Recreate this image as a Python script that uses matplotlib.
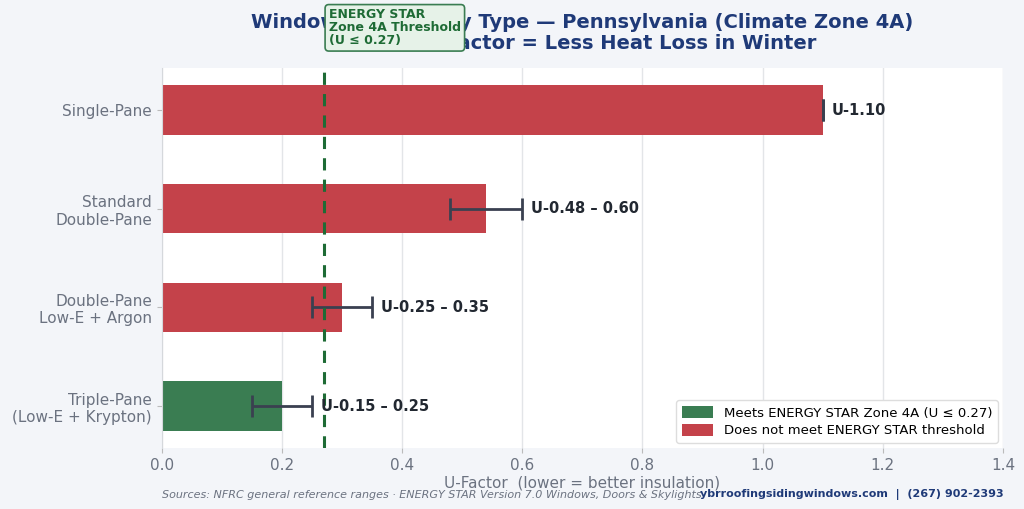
import matplotlib
matplotlib.use("Agg")
import matplotlib.pyplot as plt
import matplotlib.transforms as mtransforms
from matplotlib.patches import Patch

categories = ["Single-Pane", "Standard\nDouble-Pane", "Double-Pane\nLow-E + Argon", "Triple-Pane\n(Low-E + Krypton)"]
u_low = [1.10, 0.48, 0.25, 0.15]
u_high = [1.10, 0.60, 0.35, 0.25]
bar_values = [1.10, 0.54, 0.30, 0.20]
value_labels = ["U-1.10", "U-0.48 – 0.60", "U-0.25 – 0.35", "U-0.15 – 0.25"]
threshold = 0.27
x_ticks = [0.0, 0.2, 0.4, 0.6, 0.8, 1.0, 1.2, 1.4]

RED = "#c4424a"
GREEN = "#3a7d52"
DARKGREEN = "#1e6b35"
NAVY = "#1f3a78"
GRAY = "#6b7280"
ERR = "#3a4050"

fig = plt.figure(figsize=(10.24, 5.09), dpi=100)
fig.patch.set_facecolor("#f3f5f9")
ax = fig.add_axes([0.158, 0.12, 0.8215, 0.746])
ax.set_facecolor("white")

ypos = list(range(len(categories)))
colors = [GREEN if h <= threshold else RED for h in u_high]
ax.barh(ypos, bar_values, height=0.5, color=colors, zorder=2)
xerr_lo = [b - l for b, l in zip(bar_values, u_low)]
xerr_hi = [h - b for b, h in zip(bar_values, u_high)]
ax.errorbar(bar_values, ypos, xerr=[xerr_lo, xerr_hi], fmt="none", ecolor=ERR,
            elinewidth=2, capsize=8, capthick=2, zorder=3)
for y, h, lab in zip(ypos, u_high, value_labels):
    ax.text(h + 0.015, y, lab, va="center", ha="left", fontsize=10.5,
            fontweight="bold", color="#222831", zorder=4)

ax.axvline(threshold, color=DARKGREEN, linestyle=(0, (4, 3)), linewidth=2.2, zorder=3)
trans = mtransforms.blended_transform_factory(ax.transData, ax.transAxes)
ax.text(threshold + 0.008, 1.055, "ENERGY STAR\nZone 4A Threshold\n(U ≤ 0.27)", transform=trans,
        ha="left", va="bottom", fontsize=9, fontweight="bold", color=DARKGREEN, zorder=5,
        linespacing=1.0,
        bbox=dict(boxstyle="round,pad=0.3", facecolor="#e6f2e8", edgecolor="#3a7d52", linewidth=1.2))

ax.set_yticks(ypos)
ax.set_yticklabels(categories, fontsize=11, color=GRAY)
ax.invert_yaxis()
ax.set_xlim(0, 1.4)
ax.set_xticks(x_ticks)
ax.set_xticklabels([f"{t:.1f}" for t in x_ticks], fontsize=11, color=GRAY)
ax.tick_params(axis="both", colors="#bbbbbb", labelcolor=GRAY)
ax.grid(axis="x", color="#e3e5e8", linewidth=1, zorder=0)
ax.set_axisbelow(True)
for s in ["top", "right", "bottom"]:
    ax.spines[s].set_visible(False)
ax.spines["left"].set_color("#d5d8dc")
ax.set_xlabel("U-Factor  (lower = better insulation)", fontsize=11, color=GRAY, labelpad=2)

ax.set_title("Window U-Factor by Type — Pennsylvania (Climate Zone 4A)\nLower U-Factor = Less Heat Loss in Winter",
             fontsize=14, fontweight="bold", color=NAVY, pad=14, linespacing=1.1)

handles = [Patch(facecolor=GREEN, label="Meets ENERGY STAR Zone 4A (U ≤ 0.27)"),
           Patch(facecolor=RED, label="Does not meet ENERGY STAR threshold")]
ax.legend(handles=handles, loc="lower right", fontsize=9.5, frameon=True, framealpha=1,
          edgecolor="#dddddd", borderaxespad=0.4, handleheight=1.1, handlelength=2.4,
          labelspacing=0.3)

fig.text(0.158, 0.018, "Sources: NFRC general reference ranges · ENERGY STAR Version 7.0 Windows, Doors & Skylights",
         fontsize=8, style="italic", color=GRAY, ha="left", va="bottom")
fig.text(0.98, 0.018, "ybrroofingsidingwindows.com  |  (267) 902-2393", fontsize=8,
         fontweight="bold", color=NAVY, ha="right", va="bottom")

fig.savefig("out.png", dpi=100, facecolor=fig.get_facecolor())
